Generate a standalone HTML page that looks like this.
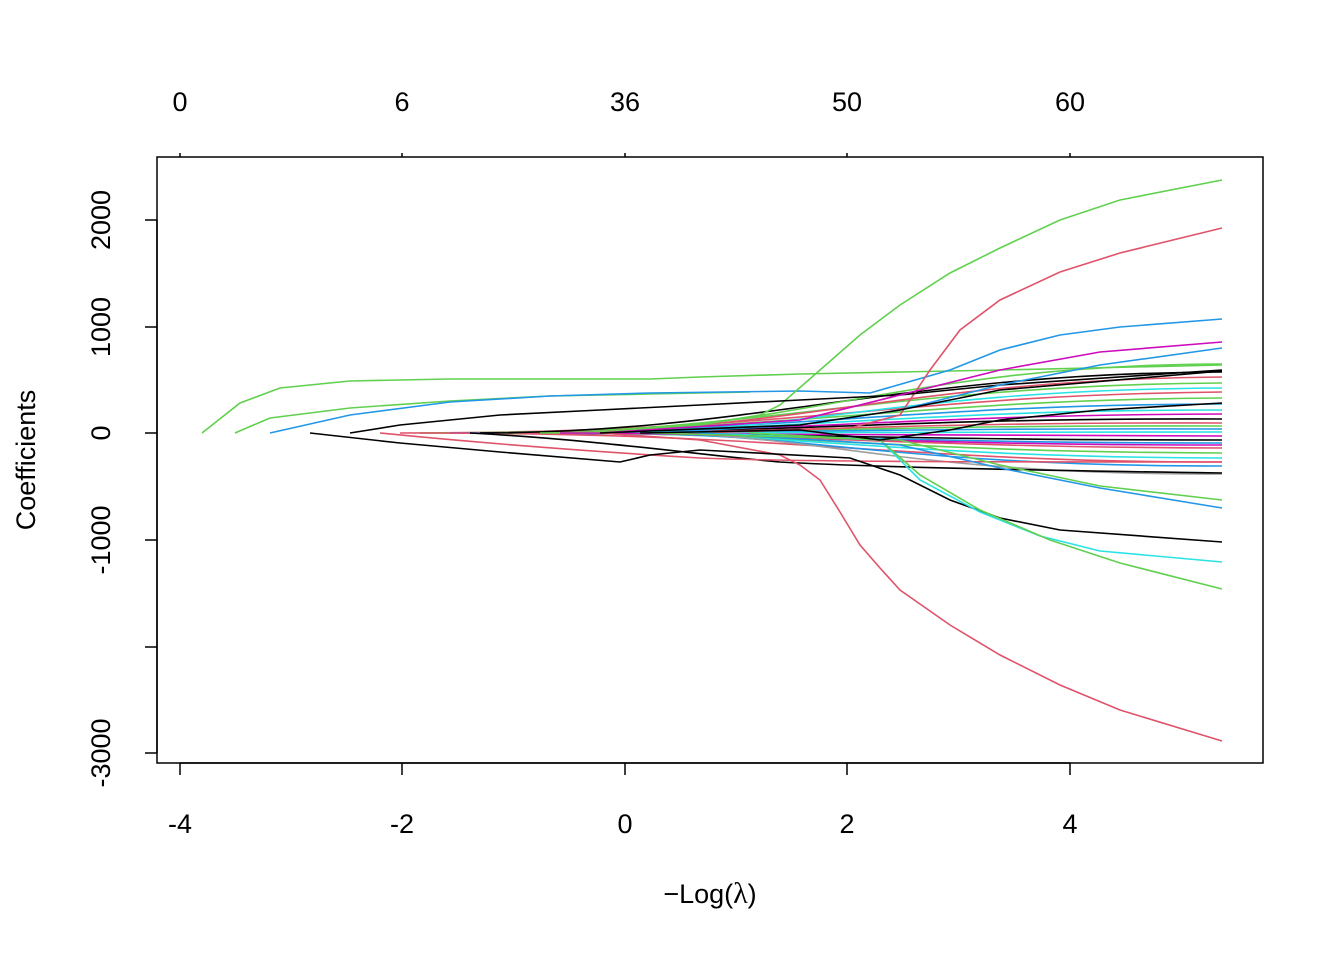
<!DOCTYPE html>
<html><head><meta charset="utf-8"><style>
html,body{margin:0;padding:0;background:#fff}
svg text{font-family:"Liberation Sans",Arial,sans-serif;font-size:27px;fill:#000}
</style></head><body>
<svg width="1344" height="960" viewBox="0 0 1344 960" xmlns="http://www.w3.org/2000/svg">
<rect x="0" y="0" width="1344" height="960" fill="#fff"/>
<g fill="none" stroke-width="1.6">
<!-- fan of small lines -->
<path d="M400,433 C800,433 900,395 1222,392" stroke="#DF536B"/>
<path d="M420,433 C800,433 900,400 1222,398" stroke="#61D04F"/>
<path d="M450,433 C800,433 900,405 1222,404" stroke="#2297E6"/>
<path d="M470,433 C800,433 900,410 1222,410" stroke="#28E2E5"/>
<path d="M500,433 C800,433 900,415 1222,414" stroke="#CD0BBC"/>
<path d="M520,433 C800,433 900,418 1222,419" stroke="#000"/>
<path d="M540,433 C800,433 900,422 1222,423" stroke="#DF536B"/>
<path d="M560,433 C800,433 900,425 1222,426" stroke="#61D04F"/>
<path d="M580,433 C800,433 900,428 1222,429" stroke="#2297E6"/>
<path d="M600,433 C800,433 900,431 1222,432" stroke="#28E2E5"/>
<path d="M450,433 C800,433 900,436 1222,436" stroke="#CD0BBC"/>
<path d="M480,433 C800,433 900,440 1222,440" stroke="#000"/>
<path d="M500,433 C800,433 900,443 1222,443" stroke="#2297E6"/>
<path d="M520,433 C800,433 900,447 1222,448" stroke="#DF536B"/>
<path d="M550,433 C800,433 900,452 1222,453" stroke="#61D04F"/>
<path d="M580,433 C800,433 900,457 1222,458" stroke="#28E2E5"/>
<path d="M420,433 C800,433 900,462 1222,462" stroke="#DF536B"/>
<path d="M620,433 C800,433 900,466 1222,466" stroke="#2297E6"/>
<path d="M640,433 C820,433 900,475 1222,474" stroke="#9E9E9E"/>
<path d="M500,433 C750,433 900,385 1222,383" stroke="#61D04F"/>
<path d="M520,433 C800,433 900,380 1222,377" stroke="#DF536B"/>
<path d="M480,433 C750,433 900,373 1222,372" stroke="#000"/>
<path d="M540,433 C800,433 900,365 1222,364" stroke="#61D04F"/>
<path d="M600,433 C800,433 900,390 1222,388" stroke="#28E2E5"/>
<path d="M560,433 C780,433 900,445 1222,445" stroke="#CD0BBC"/>
<path d="M470,433 C600,440 700,455 780,462 C850,466 1000,470 1222,473" stroke="#000"/>
<path d="M380,433 C500,445 600,452 700,458 C800,462 1000,462 1222,462" stroke="#DF536B"/>
<!-- major curves -->
<path d="M202,433 L240,403 L280,388 L350,381 L450,379 L650,379 L700,377 L800,374 L900,372 L1000,370 L1222,365" stroke="#61D04F"/>
<path d="M235,433 L270,418 L350,408 L450,401 L550,396 L650,394 L750,392" stroke="#61D04F"/>
<path d="M270,433 L350,415 L450,402 L550,396 L650,393 L800,391 L870,393 L950,370 L1000,350 L1060,335 L1120,327 L1222,319" stroke="#2297E6"/>
<path d="M600,433 L700,425 L760,415 L780,405 L820,370 L860,335 L900,305 L950,273 L1000,248 L1060,220 L1120,200 L1222,180" stroke="#61D04F"/>
<path d="M700,433 L850,428 L900,415 L930,370 L960,330 L1000,300 L1060,272 L1120,253 L1222,228" stroke="#DF536B"/>
<path d="M600,433 L700,440 L780,455 L800,465 L820,480 L840,512 L860,545 L880,568 L900,590 L950,625 L1000,655 L1060,685 L1120,710 L1222,741" stroke="#DF536B"/>
<path d="M310,433 L400,443 L500,452 L620,462 L650,455 L700,450 L850,458 L900,475 L950,500 L1000,518 L1060,530 L1222,542" stroke="#000"/>
<path d="M350,433 L400,425 L500,415 L600,410 L700,405 L800,400 L900,395 L1000,385 L1222,370" stroke="#000"/>
<path d="M700,433 L880,440 L920,480 L980,512 L1040,536 L1100,551 L1222,562" stroke="#28E2E5"/>
<path d="M750,433 L880,440 L920,475 L980,510 L1050,540 L1120,563 L1222,589" stroke="#61D04F"/>
<path d="M700,433 L900,445 L1000,468 L1100,488 L1222,508" stroke="#2297E6"/>
<path d="M650,433 L900,440 L1000,465 L1100,486 L1222,500" stroke="#61D04F"/>
<path d="M600,433 L800,420 L900,395 L1000,370 L1100,352 L1222,342" stroke="#CD0BBC"/>
<path d="M650,433 L800,425 L900,410 L1000,385 L1100,365 L1222,348" stroke="#2297E6"/>
<path d="M600,433 L800,425 L900,410 L1000,390 L1222,371" stroke="#000"/>
<path d="M640,433 L800,430 L880,440 L950,430 L1000,420 L1100,410 L1222,403" stroke="#000"/>
</g>
<!-- box -->
<rect x="157" y="157" width="1106" height="606" fill="none" stroke="#000" stroke-width="1.5"/>
<g stroke="#000" stroke-width="1.5">
<line x1="180" y1="763" x2="1070" y2="763"/>
<line x1="180" y1="763" x2="180" y2="775"/><line x1="402" y1="763" x2="402" y2="775"/><line x1="625" y1="763" x2="625" y2="775"/><line x1="847" y1="763" x2="847" y2="775"/><line x1="1070" y1="763" x2="1070" y2="775"/>
<line x1="180" y1="153" x2="180" y2="157"/><line x1="402" y1="153" x2="402" y2="157"/><line x1="625" y1="153" x2="625" y2="157"/><line x1="847" y1="153" x2="847" y2="157"/><line x1="1070" y1="153" x2="1070" y2="157"/>
<line x1="157" y1="220" x2="157" y2="753"/>
<line x1="145" y1="220" x2="157" y2="220"/><line x1="145" y1="327" x2="157" y2="327"/><line x1="145" y1="433" x2="157" y2="433"/><line x1="145" y1="540" x2="157" y2="540"/><line x1="145" y1="647" x2="157" y2="647"/><line x1="145" y1="753" x2="157" y2="753"/>
</g>
<g text-anchor="middle">
<text x="180" y="833">-4</text><text x="402" y="833">-2</text><text x="625" y="833">0</text><text x="847" y="833">2</text><text x="1070" y="833">4</text>
<text x="180" y="111">0</text><text x="402" y="111">6</text><text x="625" y="111">36</text><text x="847" y="111">50</text><text x="1070" y="111">60</text>
<text transform="translate(110,220) rotate(-90)">2000</text>
<text transform="translate(110,327) rotate(-90)">1000</text>
<text transform="translate(110,433) rotate(-90)">0</text>
<text transform="translate(110,540) rotate(-90)">-1000</text>
<text transform="translate(110,753) rotate(-90)">-3000</text>
<text transform="translate(35,460) rotate(-90)">Coefficients</text>
<text x="710" y="903">−Log(<tspan font-family="Liberation Serif,serif" font-size="30">λ</tspan>)</text>
</g>
</svg>
</body></html>
